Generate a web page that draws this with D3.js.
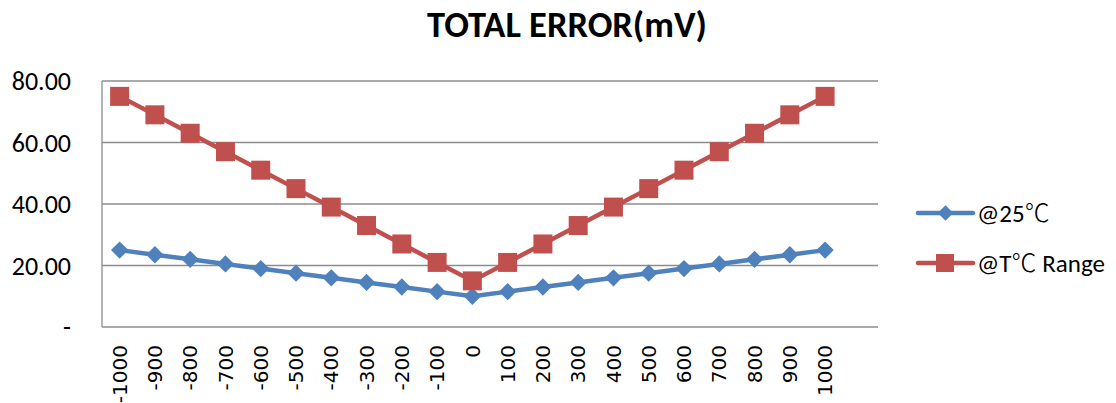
<!DOCTYPE html>
<html><head><meta charset="utf-8">
<script src="https://cdn.jsdelivr.net/npm/d3@7"></script>
<style>body{margin:0;background:#fff}svg{display:block}</style>
</head><body>
<script>
const categories = ["-1000","-900","-800","-700","-600","-500","-400","-300","-200","-100","0","100","200","300","400","500","600","700","800","900","1000"];
const at25 = [25,23.5,22,20.5,19,17.5,16,14.5,13,11.5,10,11.5,13,14.5,16,17.5,19,20.5,22,23.5,25];
const atTRange = [75,69,63,57,51,45,39,33,27,21,15,21,27,33,39,45,51,57,63,69,75];
const yTicks = [0,20,40,60,80];
const yTickLabels = ["-","20.00","40.00","60.00","80.00"];
const seriesPrefix = ["@25","@T"];
const seriesSuffix = [""," Range"];
const title = "TOTAL ERROR(mV)";

const W = 1116, H = 403;
const m = {left:102, top:81, right:878, bottom:327};
const svg = d3.select("body").append("svg").attr("width",W).attr("height",H);
const plotW = m.right - m.left;
const step = plotW / (categories.length + 1);
const x = d3.scalePoint().domain(categories).range([m.left + step/2, m.left + step/2 + step*(categories.length-1)]);
const y = d3.scaleLinear().domain([0,80]).range([m.bottom, m.top]);
const calibri = "Carlito, Lato, 'Open Sans', sans-serif";

// gridlines
svg.append("g").selectAll("line").data(yTicks).join("line")
  .attr("x1", m.left).attr("x2", m.right)
  .attr("y1", d=>y(d)).attr("y2", d=>y(d))
  .attr("stroke", "#8c8c8c").attr("stroke-width", 1.3);
svg.append("line").attr("x1",m.left).attr("x2",m.left).attr("y1",m.top).attr("y2",m.bottom)
  .attr("stroke","#8c8c8c").attr("stroke-width",1.3);

// y labels
svg.append("g").selectAll("text").data(yTicks).join("text")
  .attr("x", 71).attr("y", d=>y(d)).attr("dy","0.35em")
  .attr("text-anchor","end")
  .style("font-family",calibri).style("font-size","26px").attr("fill","#000")
  .text((d,i)=>yTickLabels[i]);

// x labels
svg.append("g").selectAll("text").data(categories).join("text")
  .attr("transform", d=>`translate(${x(d)},${m.bottom+18}) rotate(-90)`)
  .attr("text-anchor","end").attr("dy","0.36em")
  .style("font-family","'DejaVu Sans', sans-serif").style("font-size","20px").attr("fill","#000")
  .text(d=>d);

// title
svg.append("text").attr("x", 567).attr("y", 37).attr("text-anchor","middle")
  .style("font-family",calibri).style("font-weight","bold").style("font-size","36.5px")
  .text(title);

const colors = ["#4F81BD","#C0504D"];
const line = d3.line().x((d,i)=>x(categories[i])).y(d=>y(d));

function drawSeries(vals, color, kind){
  svg.append("path").datum(vals).attr("d", line).attr("fill","none")
    .attr("stroke", color).attr("stroke-width", 4.5).attr("stroke-linejoin","round");
  const g = svg.append("g");
  if(kind==="diamond"){
    g.selectAll("path").data(vals).join("path")
      .attr("d", d3.symbol().type(d3.symbolSquare).size(150)())
      .attr("transform",(d,i)=>`translate(${x(categories[i])},${y(d)}) rotate(45)`)
      .attr("fill", color);
  } else {
    g.selectAll("rect").data(vals).join("rect")
      .attr("x",(d,i)=>x(categories[i])-9.5).attr("y",d=>y(d)-9.5)
      .attr("width",19).attr("height",19).attr("fill",color);
  }
}
drawSeries(at25, colors[0], "diamond");
drawSeries(atTRange, colors[1], "square");

// legend
const leg = svg.append("g");
const legY = [213, 263];
seriesPrefix.forEach((name,i)=>{
  const g = leg.append("g").attr("transform",`translate(0,${legY[i]})`);
  g.append("line").attr("x1",918).attr("x2",973).attr("y1",0).attr("y2",0)
    .attr("stroke",colors[i]).attr("stroke-width",4.5).attr("stroke-linecap","round");
  if(i===0){
    g.append("path").attr("d", d3.symbol().type(d3.symbolSquare).size(120)())
      .attr("transform","translate(945.5,0) rotate(45)").attr("fill",colors[i]);
  } else {
    g.append("rect").attr("x",936).attr("y",-9).attr("width",18).attr("height",18).attr("fill",colors[i]);
  }
  const t = g.append("text").attr("x",977).attr("y",0).attr("dy","0.35em")
    .style("font-family",calibri).style("font-size","25px");
  t.append("tspan").text(name);
  t.append("tspan").style("font-family","'Noto Sans CJK SC'").style("font-weight","300").text("\u2103");
  t.append("tspan").text(seriesSuffix[i]);
});
</script>
</body></html>
